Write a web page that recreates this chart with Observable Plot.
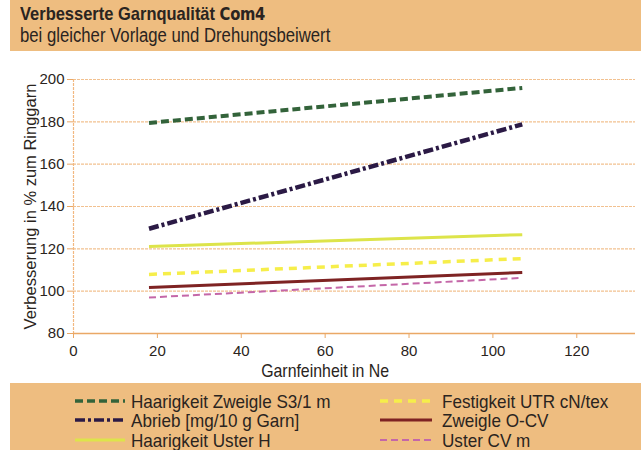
<!DOCTYPE html>
<html><head><meta charset="utf-8">
<script src="https://cdn.jsdelivr.net/npm/d3@7"></script>
<script src="https://cdn.jsdelivr.net/npm/@observablehq/plot@0.6"></script>
<style>
body{margin:0;background:#fff;width:641px;height:450px;overflow:hidden;position:relative;font-family:"Liberation Sans",Arial,sans-serif;color:#2a2420;}
#head{position:absolute;left:10px;top:0;width:631px;height:51px;background:#eebd80;}
#title{position:absolute;left:10px;top:3px;font-size:19px;font-weight:bold;white-space:nowrap;transform:scaleX(0.867);transform-origin:0 0;}
#logo{font-family:"DejaVu Sans",sans-serif;font-weight:900;font-size:17px;letter-spacing:-0.3px;}
#sub{position:absolute;left:10px;top:24px;font-size:19.5px;white-space:nowrap;transform:scaleX(0.857);transform-origin:0 0;}
#chart{position:absolute;left:0;top:50px;}
#legend{position:absolute;left:10px;top:383px;width:631px;height:67px;background:#eebd80;}
.item{position:absolute;font-size:19px;line-height:1;white-space:nowrap;display:flex;align-items:center;height:18px;}
.item svg{margin-right:6px;}
.item span{display:inline-block;line-height:1;transform:scaleX(0.9);transform-origin:0 50%;}
</style>
</head><body>
<div id="head">
  <div id="title">Verbesserte Garnqualität <span id="logo">Com4</span></div>
  <div id="sub">bei gleicher Vorlage und Drehungsbeiwert</div>
</div>
<div id="chart"></div>
<div id="legend"></div>
<script>
// Data
const garnfeinheit = [18, 107];
const seriesNames = ["Haarigkeit Zweigle S3/1 m", "Abrieb [mg/10 g Garn]", "Haarigkeit Uster H", "Festigkeit UTR cN/tex", "Zweigle O-CV", "Uster CV m"];
const haarigkeitZweigle = [179.5, 196];
const abrieb = [129.5, 178.8];
const haarigkeitUster = [121.1, 126.7];
const festigkeit = [107.9, 115.4];
const zweigleOCV = [101.7, 108.8];
const usterCV = [97, 106.3];
const xTicks = [0, 20, 40, 60, 80, 100, 120];
const yTicks = [80, 100, 120, 140, 160, 180, 200];
const yLabel = "Verbesserung in % zum Ringgarn";
const xLabel = "Garnfeinheit in Ne";

const seriesValues = [haarigkeitZweigle, abrieb, haarigkeitUster, festigkeit, zweigleOCV, usterCV];
const styles = [
  {stroke:"#33633a", strokeWidth:4, strokeDasharray:"8,4"},
  {stroke:"#2b1a45", strokeWidth:4.5, strokeDasharray:"10,3,3,3"},
  {stroke:"#dde44a", strokeWidth:3, strokeDasharray:null},
  {stroke:"#f6ee4a", strokeWidth:3.5, strokeDasharray:"8,6"},
  {stroke:"#7e2323", strokeWidth:3, strokeDasharray:null},
  {stroke:"#c467a8", strokeWidth:2, strokeDasharray:"7,4"}
];

const data = seriesNames.map((name, i) => garnfeinheit.map((x, j) => ({series: name, x, y: seriesValues[i][j]})));

const orange = "#eaa866";
const font = '"Liberation Sans",Arial,sans-serif';

const chart = Plot.plot({
  width: 641, height: 333,
  marginTop: 29, marginBottom: 50, marginLeft: 73, marginRight: 6,
  style: {fontFamily: font, fontSize: "15px", color: "#2a2420", background: "transparent"},
  x: {domain: [0, 134]},
  y: {domain: [80, 200]},
  marks: [
    Plot.gridY(yTicks.filter(d => d > 80), {stroke: "#f2c190", strokeOpacity: 1, strokeWidth: 1.2, strokeDasharray: "3,1"}),
    Plot.ruleX([0], {stroke: "#f2b880", strokeWidth: 1.2, strokeDasharray: "3,1"}),
    Plot.ruleY([80], {stroke: orange, strokeWidth: 1.5}),
    Plot.axisY({ticks: yTicks, tickSize: 6, tickPadding: 3, stroke: orange, label: null, fontSize: 15}),
    Plot.axisX({ticks: xTicks, tickSize: 5, tickPadding: 7, stroke: orange, label: null, fontSize: 15}),
    Plot.text([yLabel], {frameAnchor: "left", textAnchor: "middle", rotate: -90, dx: -43, fontSize: 16.5, fill: "#2a2420"}),
    Plot.text([xLabel], {x: [60], frameAnchor: "bottom", textAnchor: "middle", dy: 43, fontSize: 19, fill: "#2a2420"}),
    ...data.map((d, i) => Plot.line(d, {x: "x", y: "y", ...styles[i], strokeLinecap: "butt"}))
  ]
});
// condensed look for the x-axis title
chart.querySelectorAll("text").forEach(t => {
  if (t.textContent === xLabel) { t.setAttribute("textLength", 128); t.setAttribute("lengthAdjust", "spacingAndGlyphs"); }
});
document.getElementById("chart").appendChild(chart);

// Legend
const legend = document.getElementById("legend");
const positions = [[65, 9], [65, 28], [65, 48], [370, 9], [370, 28], [370, 48]];
seriesNames.forEach((name, i) => {
  const el = document.createElement("div");
  el.className = "item";
  el.style.left = positions[i][0] + "px";
  el.style.top = positions[i][1] + "px";
  const s = styles[i];
  const w = i >= 3 ? 52 : 50;
  el.innerHTML = `<svg width="${w}" height="8"><line x1="0" y1="4" x2="${w}" y2="4" stroke="${s.stroke}" stroke-width="${Math.min(s.strokeWidth,3.5)}" ${s.strokeDasharray ? `stroke-dasharray="${s.strokeDasharray}"` : ""}/></svg><span style="margin-left:${i >= 3 ? 4 : 0}px">${name}</span>`;
  legend.appendChild(el);
});
</script>
</body></html>
